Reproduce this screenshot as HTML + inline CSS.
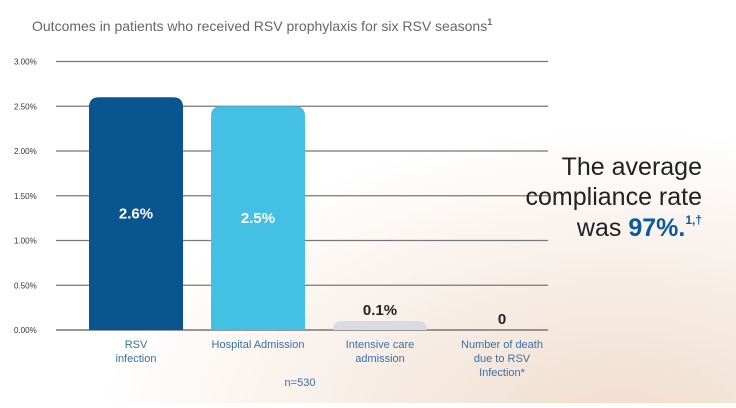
<!DOCTYPE html>
<html><head><meta charset="utf-8"><style>
body{margin:0;width:736px;height:403px;overflow:hidden;font-family:"Liberation Sans",sans-serif;
background:radial-gradient(ellipse 520px 300px at 620px 430px,#f0dccd 0%,#f7ede5 50%,#ffffff 100%);}
</style></head><body>
<svg id="chart" width="736" height="403" xmlns="http://www.w3.org/2000/svg">
<text x="32" y="31" font-size="14" fill="#666">Outcomes in patients who received RSV prophylaxis for six RSV seasons<tspan font-size="9" dy="-6" font-weight="bold">1</tspan></text>
<g id="grid"></g><g id="bars"></g>
<text x="300" y="386" font-size="11" fill="#3b6fa5" text-anchor="middle">n=530</text>
<g font-size="25" fill="#222" text-anchor="end">
<text x="702" y="175">The average</text>
<text x="702" y="205">compliance rate</text>
<text x="702" y="236">was <tspan fill="#0a5a9c" font-weight="bold">97%.</tspan><tspan fill="#0a5a9c" font-weight="bold" font-size="12" dy="-12">1,†</tspan></text>
</g>
</svg>
<script>
const categories=[["RSV","infection"],["Hospital Admission"],["Intensive care","admission"],["Number of death","due to RSV","Infection*"]];
const values=[2.6,2.5,0.1,0];
const labels=["2.6%","2.5%","0.1%","0"];
const ticks=[0,0.5,1,1.5,2,2.5,3];
const tickLabels=["0.00%","0.50%","1.00%","1.50%","2.00%","2.50%","3.00%"];
const colors=["#08558f","#43c0e3","#d8dcdf","#d8dcdf"];
const NS="http://www.w3.org/2000/svg";
const y=v=>330-v*89.5;
const x=i=>89+i*122;
const bw=94;
const g=document.getElementById('grid'),b=document.getElementById('bars');
function mk(tag,attrs,parent){const e=document.createElementNS(NS,tag);for(const k in attrs)e.setAttribute(k,attrs[k]);parent.appendChild(e);return e;}
ticks.forEach((t,i)=>{
 const l=mk('line',{x1:56,x2:548,y1:y(t),y2:y(t),stroke:'#777','stroke-width':t===0?1.5:1.2},g);
 
 
 const tx=mk('text',{x:14,y:y(t)+3,'font-size':8,fill:'#333'},g);tx.textContent=tickLabels[i];
 
 
});
values.forEach((v,i)=>{
 const h=330-y(v);
 if(h>0){
  const r=Math.min(10,h);
  const p=mk('path',{d:`M${x(i)},330 V${y(v)+r} Q${x(i)},${y(v)} ${x(i)+r},${y(v)} H${x(i)+bw-r} Q${x(i)+bw},${y(v)} ${x(i)+bw},${y(v)+r} V330 Z`,fill:colors[i]},b);
  
  
 }
 const inside=v>1;
 const t=mk('text',{x:x(i)+bw/2,y:inside?(y(v)+330)/2+5:y(v)-6,'font-size':15,'font-weight':'bold',fill:inside?'#fff':'#222','text-anchor':'middle'},b);
 t.textContent=labels[i];
 
 
 categories[i].forEach((c,j)=>{
  const ct=mk('text',{x:x(i)+bw/2,y:348+j*14,'font-size':11,fill:'#3b6fa5','text-anchor':'middle'},b);
  ct.textContent=c;
  
  
 });
});
</script>
</body></html>
